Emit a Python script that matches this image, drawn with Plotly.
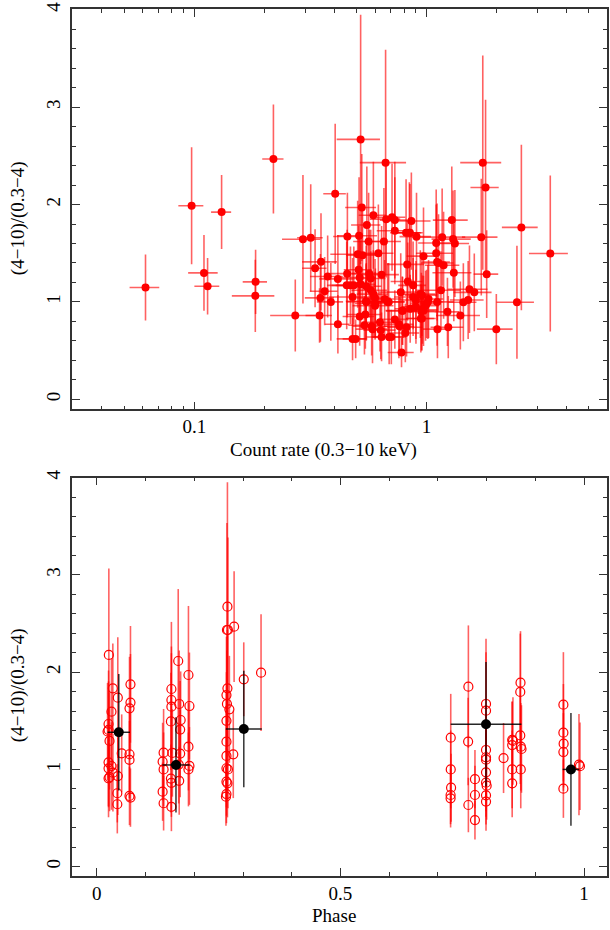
import plotly.graph_objects as go

# ---------------- Top panel: hardness ratio vs count rate ----------------
rate = [0.0616, 0.0973, 0.131, 0.110, 0.114, 0.219, 0.1835, 0.183, 0.272, 0.2935,
        0.317, 0.331, 0.351, 0.349, 0.346, 0.364, 0.375, 0.387, 0.404, 0.415,
        0.415, 0.456, 0.520, 0.526, 0.666, 1.746, 1.795, 2.56, 3.41, 2.45,
        1.997, 1.72, 1.815, 1.605, 1.53, 1.51, 1.44, 1.398, 1.284, 1.30,
        1.324, 1.31, 1.24, 1.23, 1.184, 1.167, 1.153, 1.114, 1.10, 1.10,
        1.11, 1.11, 1.00, 0.97, 0.905, 0.86, 0.848, 0.816, 0.825, 0.83,
        0.875, 0.774, 0.73, 0.73, 0.71, 0.67, 0.655, 0.62, 0.64, 0.59,
        0.553, 0.512, 0.563, 0.505, 0.53, 0.51, 0.515, 0.575, 0.455, 0.453,
        0.47, 0.48, 0.52, 0.55, 0.575, 0.59, 0.60, 0.60, 0.545, 0.515,
        0.48, 0.495, 0.54, 0.58, 0.585, 0.63, 0.635, 0.64, 0.69, 0.66,
        0.68, 0.73, 0.76, 0.78, 0.81, 0.82, 0.785, 0.875, 0.90, 0.90,
        0.96, 0.945, 0.94, 1.02, 0.85, 0.99, 0.95, 0.567, 0.486, 0.549,
        0.549, 0.602, 0.687, 0.955, 1.013, 0.789, 0.97, 0.764, 0.705, 0.955,
        1.126, 0.843]
ratio = [1.148, 1.987, 1.922, 1.298, 1.161, 2.467, 1.206, 1.062, 0.860, 1.644,
         1.658, 1.346, 1.411, 1.041, 0.860, 1.11, 1.261, 1.00, 2.11, 0.771,
         1.236, 1.672, 2.669, 1.97, 2.43, 2.43, 2.175, 1.765, 1.497, 0.997,
         0.72, 1.665, 1.285, 1.098, 1.13, 1.02, 0.997, 0.86, 1.84, 1.645,
         1.60, 1.30, 0.74, 0.898, 1.377, 1.665, 1.12, 0.72, 1.605, 1.50,
         1.41, 1.00, 0.98, 1.47, 1.67, 1.83, 1.71, 1.71, 1.385, 1.21,
         1.17, 1.10, 1.73, 1.84, 1.87, 1.85, 1.62, 1.50, 1.28, 1.89,
         1.79, 1.68, 1.62, 1.49, 1.48, 1.33, 1.25, 1.24, 1.29, 1.17,
         1.17, 1.05, 1.18, 1.00, 1.12, 1.08, 1.04, 0.96, 0.87, 0.85,
         0.62, 0.62, 0.76, 0.75, 0.72, 0.79, 0.71, 0.64, 0.64, 1.03,
         1.00, 0.82, 0.77, 0.48, 0.68, 0.74, 0.91, 1.05, 1.02, 0.95,
         0.92, 0.83, 1.08, 1.03, 0.93, 0.96, 0.90, 1.29, 1.17, 1.16,
         1.007, 0.983, 1.00, 1.069, 1.00, 0.908, 0.908, 0.75, 0.64, 0.83,
         1.40, 1.71]
rate_err = [0.009, 0.012, 0.013, 0.016, 0.014, 0.023, 0.022, 0.038, 0.06, 0.055,
            0.04, 0.04, 0.06, 0.05, 0.045, 0.05, 0.06, 0.05, 0.045, 0.05,
            0.07, 0.06, 0.11, 0.08, 0.15, 0.35, 0.25, 0.45, 0.65, 0.45,
            0.35, 0.30, 0.22, 0.30, 0.30, 0.25, 0.20, 0.30, 0.22, 0.25,
            0.20, 0.25, 0.20, 0.15, 0.20, 0.30, 0.25, 0.15, 0.18, 0.20,
            0.15, 0.20, 0.15, 0.15, 0.14, 0.18, 0.10, 0.12, 0.15, 0.13,
            0.12, 0.15, 0.12, 0.10, 0.10, 0.10, 0.12, 0.10, 0.12, 0.08,
            0.08, 0.10, 0.08, 0.12, 0.08, 0.07, 0.09, 0.09, 0.07, 0.08,
            0.08, 0.10, 0.08, 0.10, 0.10, 0.09, 0.10, 0.12, 0.09, 0.08,
            0.07, 0.06, 0.08, 0.10, 0.09, 0.10, 0.10, 0.09, 0.11, 0.12,
            0.12, 0.10, 0.12, 0.10, 0.12, 0.14, 0.12, 0.15, 0.13, 0.12,
            0.15, 0.13, 0.15, 0.16, 0.12, 0.14, 0.13, 0.09, 0.08, 0.09,
            0.10, 0.11, 0.12, 0.15, 0.16, 0.12, 0.14, 0.12, 0.11, 0.14,
            0.18, 0.12]
ratio_err = [0.34, 0.60, 0.38, 0.39, 0.29, 0.56, 0.33, 0.37, 0.37, 0.66,
             0.55, 0.40, 0.50, 0.45, 0.28, 0.35, 0.42, 0.40, 0.72, 0.30,
             0.45, 0.45, 1.28, 0.55, 1.16, 1.10, 0.90, 0.85, 0.80, 0.58,
             0.36, 0.60, 0.45, 0.40, 0.45, 0.40, 0.40, 0.35, 0.55, 0.50,
             0.55, 0.50, 0.32, 0.35, 0.55, 0.50, 0.40, 0.30, 0.55, 0.50,
             0.60, 0.45, 0.35, 0.50, 0.45, 0.50, 0.50, 0.55, 0.45, 0.40,
             0.45, 0.40, 0.55, 0.60, 0.55, 0.60, 0.55, 0.50, 0.50, 0.55,
             0.60, 0.60, 0.50, 0.55, 0.50, 0.45, 0.40, 0.50, 0.45, 0.45,
             0.40, 0.40, 0.45, 0.40, 0.40, 0.45, 0.40, 0.35, 0.35, 0.30,
             0.22, 0.20, 0.30, 0.30, 0.35, 0.30, 0.30, 0.25, 0.28, 0.40,
             0.40, 0.30, 0.35, 0.15, 0.30, 0.30, 0.35, 0.40, 0.40, 0.38,
             0.35, 0.35, 0.45, 0.40, 0.35, 0.36, 0.40, 0.45, 0.40, 0.42,
             0.38, 0.36, 0.40, 0.42, 0.38, 0.35, 0.36, 0.30, 0.28, 0.33,
             0.50, 0.52]

# ---------------- Bottom panel: hardness ratio vs phase ----------------
phase = [0.0246, 0.0328, 0.043, 0.069, 0.069, 0.067, 0.030, 0.024, 0.024, 0.026,
         0.051, 0.067, 0.067, 0.024, 0.024, 0.030, 0.033, 0.024, 0.043, 0.042,
         0.042, 0.067, 0.069, 0.022, 0.026,
         0.137, 0.135, 0.137, 0.135, 0.137, 0.153, 0.153, 0.153, 0.152, 0.155,
         0.152, 0.153, 0.153, 0.167, 0.169, 0.172, 0.171, 0.171, 0.168, 0.169,
         0.188, 0.190, 0.188, 0.190, 0.188,
         0.268, 0.267, 0.269, 0.2817, 0.268, 0.266, 0.267, 0.272, 0.266, 0.266,
         0.266, 0.280, 0.266, 0.269, 0.266, 0.268, 0.266, 0.265, 0.3015, 0.337,
         0.7263, 0.7263, 0.727, 0.726, 0.726, 0.7625, 0.762, 0.7625, 0.776, 0.776,
         0.776, 0.7987, 0.7987, 0.7987, 0.7987, 0.7987, 0.7987, 0.7987, 0.800, 0.7987,
         0.7987, 0.8347, 0.8524, 0.854, 0.8524, 0.8524, 0.8524, 0.8695, 0.869, 0.869,
         0.8702, 0.8715, 0.870,
         0.9575, 0.9575, 0.958, 0.9575, 0.9575, 0.9895, 0.9915]
phase_ratio = [2.177, 1.834, 1.738, 1.875, 1.687, 1.628, 1.594, 1.467, 1.406, 1.293,
               1.166, 1.156, 1.098, 1.073, 1.011, 1.035, 0.967, 0.908, 0.932, 0.755,
               0.642, 0.727, 0.710, 1.390, 0.920,
               1.172, 1.080, 1.000, 0.771, 0.652, 1.827, 1.714, 1.645, 1.494, 1.170,
               0.906, 0.862, 0.615, 2.115, 1.673, 1.508, 1.410, 1.163, 1.050, 0.883,
               1.971, 1.652, 1.234, 1.036, 1.000,
               2.674, 2.434, 2.434, 2.468, 1.834, 1.765, 1.673, 1.618, 1.500, 1.285,
               1.139, 1.155, 1.012, 1.000, 0.874, 0.857, 0.747, 0.720, 1.927, 1.995,
               1.327, 1.000, 0.812, 0.737, 0.703, 1.851, 1.286, 0.634, 0.900, 0.737,
               0.479, 1.673, 1.604, 1.200, 1.125, 1.100, 0.970, 0.864, 0.833, 0.734,
               0.669, 1.117, 1.303, 1.293, 1.250, 1.000, 0.857, 1.892, 1.797, 1.350,
               1.234, 1.210, 1.000,
               1.666, 1.378, 1.265, 1.179, 0.802, 1.050, 1.033]
phase_ratio_err = [0.89, 0.46, 0.62, 0.60, 0.50, 0.53, 0.55, 0.55, 0.50, 0.50,
                   0.40, 0.45, 0.40, 0.45, 0.40, 0.45, 0.40, 0.40, 0.40, 0.30,
                   0.30, 0.30, 0.30, 0.50, 0.35,
                   0.45, 0.40, 0.38, 0.30, 0.28, 0.69, 0.55, 0.55, 0.50, 0.45,
                   0.35, 0.35, 0.25, 0.74, 0.55, 0.50, 0.50, 0.45, 0.40, 0.35,
                   0.71, 0.55, 0.45, 0.40, 0.38,
                   1.28, 1.10, 0.95, 0.57, 0.60, 0.60, 0.55, 0.55, 0.50, 0.50,
                   0.45, 0.45, 0.40, 0.40, 0.35, 0.35, 0.30, 0.30, 0.38, 0.60,
                   0.45, 0.40, 0.35, 0.30, 0.30, 0.63, 0.45, 0.28, 0.30, 0.30,
                   0.20, 0.67, 0.60, 0.45, 0.45, 0.40, 0.40, 0.35, 0.35, 0.30,
                   0.30, 0.36, 0.39, 0.45, 0.45, 0.40, 0.35, 0.53, 0.60, 0.50,
                   0.45, 0.45, 0.40,
                   0.54, 0.50, 0.45, 0.40, 0.30, 0.52, 0.45]

# phase-binned averages (black)
bin_phase = [0.045, 0.1624, 0.3016, 0.7987, 0.973]
bin_phase_err = [0.023, 0.028, 0.037, 0.0726, 0.017]
bin_ratio = [1.382, 1.046, 1.416, 1.464, 1.000]
bin_ratio_err = [0.60, 0.49, 0.60, 0.64, 0.58]

RED_BAR = "rgba(255,0,0,0.62)"
FONT = "Liberation Serif"

fig = go.Figure()

fig.add_trace(go.Scatter(
    x=rate, y=ratio, mode="markers", xaxis="x", yaxis="y",
    marker=dict(color="red", size=8, symbol="circle"),
    error_x=dict(type="data", array=rate_err, color=RED_BAR, thickness=1.6, width=0),
    error_y=dict(type="data", array=ratio_err, color=RED_BAR, thickness=1.6, width=0),
    showlegend=False, hoverinfo="x+y"))

fig.add_trace(go.Scatter(
    x=phase, y=phase_ratio, mode="markers", xaxis="x2", yaxis="y2",
    marker=dict(color="red", size=9, symbol="circle-open", line=dict(width=1.2, color="red")),
    error_y=dict(type="data", array=phase_ratio_err, color=RED_BAR, thickness=1.6, width=0),
    showlegend=False, hoverinfo="x+y"))

fig.add_trace(go.Scatter(
    x=bin_phase, y=bin_ratio, mode="markers", xaxis="x2", yaxis="y2",
    marker=dict(color="black", size=10, symbol="circle"),
    error_x=dict(type="data", array=bin_phase_err, color="rgba(0,0,0,0.85)", thickness=1.5, width=0),
    error_y=dict(type="data", array=bin_ratio_err, color="rgba(0,0,0,0.8)", thickness=1.5, width=0),
    showlegend=False, hoverinfo="x+y"))

axis_common = dict(showline=True, linecolor="#333", linewidth=1.5, mirror="ticks",
                   ticks="inside", ticklen=8, tickwidth=1.3, tickcolor="#333",
                   showgrid=False, zeroline=False,
                   tickfont=dict(family=FONT, size=19, color="black"))

log_minor = [0.04, 0.05, 0.06, 0.07, 0.08, 0.09, 0.2, 0.3, 0.4, 0.5, 0.6, 0.7, 0.8, 0.9, 2, 3, 4, 5]

fig.update_layout(
    width=610, height=930,
    margin=dict(l=72, r=1, t=9, b=54),
    paper_bgcolor="white", plot_bgcolor="white",
    xaxis=dict(axis_common, type="log", range=[-1.527, 0.777], anchor="y",
               tickmode="array", tickvals=[0.1, 1], ticktext=["0.1", "1"],
               ticklabelstandoff=-1,
               minor=dict(tickmode="array", tickvals=log_minor, ticks="inside",
                          ticklen=4, tickcolor="#333", tickwidth=1.2)),
    yaxis=dict(axis_common, domain=[0.5383, 1.0], range=[-0.103, 4.008], anchor="x",
               tickmode="array", tickvals=[0, 1, 2, 3, 4], tickangle=-90,
               ticklabelstandoff=3,
               minor=dict(dtick=0.2, ticks="inside", ticklen=4, tickcolor="#333", tickwidth=1.2)),
    xaxis2=dict(axis_common, range=[-0.051, 1.047], anchor="y2",
                tickmode="array", tickvals=[0, 0.5, 1], ticktext=["0", "0.5", "1"],
                ticklabelstandoff=-1,
                minor=dict(dtick=0.1, ticks="inside", ticklen=4, tickcolor="#333", tickwidth=1.2)),
    yaxis2=dict(axis_common, domain=[0.0, 0.4594], range=[-0.096, 4.0], anchor="x2",
                tickmode="array", tickvals=[0, 1, 2, 3, 4], tickangle=-90,
                ticklabelstandoff=3,
                minor=dict(dtick=0.2, ticks="inside", ticklen=4, tickcolor="#333", tickwidth=1.2)),
    annotations=[
        dict(text="Count rate (0.3−10 keV)", xref="paper", yref="paper",
             x=0.471, y=0.4913, xanchor="center", yanchor="middle", showarrow=False,
             font=dict(family=FONT, size=19, color="black")),
        dict(text="Phase", xref="paper", yref="paper",
             x=0.4888, y=-0.045, xanchor="center", yanchor="middle", showarrow=False,
             font=dict(family=FONT, size=19, color="black")),
        dict(text="(4−10)/(0.3−4)", xref="paper", yref="paper",
             x=-0.1006, y=0.759, xanchor="center", yanchor="middle", showarrow=False,
             textangle=-90, font=dict(family=FONT, size=19, color="black")),
        dict(text="(4−10)/(0.3−4)", xref="paper", yref="paper",
             x=-0.1006, y=0.2203, xanchor="center", yanchor="middle", showarrow=False,
             textangle=-90, font=dict(family=FONT, size=19, color="black")),
    ],
)

fig.write_html("out.html", config={"displayModeBar": False},
               post_script="document.body.style.margin='0';document.body.style.overflow='hidden';")
